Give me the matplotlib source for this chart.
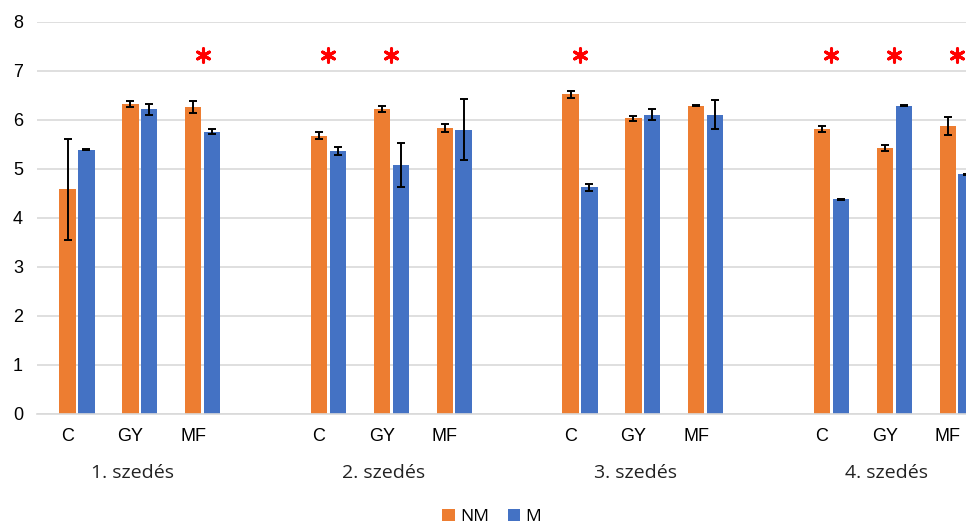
import matplotlib
matplotlib.use('Agg')
import matplotlib.pyplot as plt
import matplotlib.transforms as mtransforms
import numpy as np

# Data
groups = ['1. szedés', '2. szedés', '3. szedés', '4. szedés']
cats = ['C', 'GY', 'MF']

nm = [4.58, 6.32, 6.26, 5.68, 6.23, 5.84, 6.52, 6.03, 6.29, 5.82, 5.43, 5.88]
nm_err = [1.04, 0.065, 0.12, 0.075, 0.06, 0.08, 0.07, 0.055, 0.01, 0.06, 0.055, 0.18]
m = [5.39, 6.22, 5.76, 5.36, 5.08, 5.80, 4.62, 6.11, 6.11, 4.38, 6.29, 4.89]
m_err = [0.01, 0.11, 0.055, 0.08, 0.44, 0.62, 0.07, 0.115, 0.29, 0.01, 0.01, 0.01]
signif = [False, False, True, True, True, False, True, False, False, True, True, True]

ORANGE = '#ED7D31'
BLUE = '#4472C4'
GRID = '#D9D9D9'

# 3 categories per group, one empty slot between groups
x = np.array([4 * g + c for g in range(len(groups)) for c in range(len(cats))], dtype=float)
width = 0.26
off = 0.15

fig = plt.figure(figsize=(9.66, 5.24), dpi=100)
ax = fig.add_axes([37 / 966, (524 - 413.7) / 524, (966 - 37) / 966, 391.7 / 524])

ax.bar(x - off, nm, width, color=ORANGE, label='NM', zorder=2)
ax.bar(x + off, m, width, color=BLUE, label='M', zorder=2)
ekw = dict(fmt='none', ecolor='black', elinewidth=1.4, capsize=3.2, capthick=1.4, zorder=3)
ax.errorbar(x - off, nm, yerr=nm_err, **ekw)
ax.errorbar(x + off, m, yerr=m_err, **ekw)

# significance markers
sx = x[np.array(signif)]
ax.scatter(sx, np.full(len(sx), 7.33), marker=(6, 2, 0), s=95, linewidths=2.2,
           color='#FF0000', zorder=4)

ax.set_ylim(0, 8)
ax.set_xlim(-0.636, 14.14)
ax.set_yticks(range(0, 9))
ax.yaxis.grid(True, color=GRID, linewidth=1.2, zorder=0)
ax.set_axisbelow(True)
for s in ['top', 'right', 'left']:
    ax.spines[s].set_visible(False)
ax.spines['bottom'].set_color(GRID)
ax.spines['bottom'].set_linewidth(1.2)
ax.tick_params(axis='both', length=0, labelsize=13)
ax.tick_params(axis='y', pad=10)
for lab in ax.get_yticklabels():
    lab.set_fontfamily('Liberation Sans')
ax.set_xticks([])

trans = mtransforms.blended_transform_factory(ax.transData, ax.transAxes)
for i, xi in enumerate(x):
    ax.text(xi - off, -0.058, cats[i % 3], transform=trans, ha='center', va='center',
            fontsize=13, family='Liberation Sans')
for g, name in enumerate(groups):
    ax.text(4 * g + 0.88, -0.152, name, transform=trans, ha='center', va='center',
            fontsize=14, family='Open Sans', color='#222222')

fig.legend(loc='center', bbox_to_anchor=(0.509, 0.014), ncol=2, frameon=False,
           handlelength=0.7, handleheight=0.7, handletextpad=0.3, columnspacing=1.1,
           prop={'family': 'Open Sans', 'size': 12.5})

plt.savefig('out.png', dpi=100)
